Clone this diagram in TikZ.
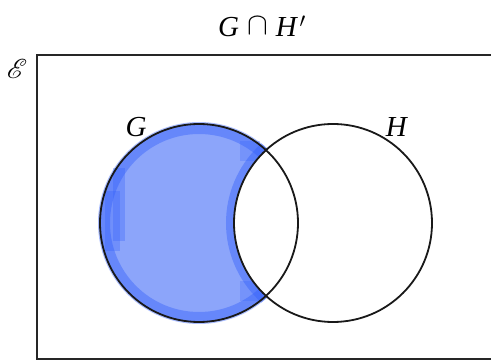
\documentclass[tikz,border=0pt]{standalone}
\usepackage{mathrsfs}
\usepackage{graphicx}
\usepackage{fontspec}
\setmainfont{Liberation Serif}
\usetikzlibrary{calc}
\definecolor{blueL}{RGB}{140,165,250}
\definecolor{blueD}{RGB}{50,95,250}
\tikzset{
  lbl/.style={inner sep=0pt, font=\fontsize{29}{34}\selectfont},
  frameline/.style={line width=1.6pt, black!85},
  circ/.style={line width=1.8pt, black!90},
}
\begin{document}
\begin{tikzpicture}[x=1pt,y=1pt]
\useasboundingbox (0,0) rectangle (491,361);
% crescent shading
\begin{scope}[even odd rule]
  \clip (0,0) rectangle (491,361) (333,138) circle (99);
  \fill[blueL] (199,138) circle (99);
  \fill[blueD, opacity=0.3] (113,193) rectangle (125,120);
  \fill[blueD, opacity=0.3] (105,170) rectangle (120,110);
  \fill[blueD, opacity=0.25] (240,220) rectangle (260,200);
  \fill[blueD, opacity=0.25] (240,80) rectangle (262,60);
\end{scope}
\begin{scope}[even odd rule]
  \clip (0,0) rectangle (491,361) (333,138) circle (99);
  \begin{scope}[nonzero rule]
  \clip (199,138) circle (101);
  \draw[blueD, opacity=0.42, line width=20pt] (199,138) circle (99);
  \draw[blueD, opacity=0.42, line width=16pt] (333,138) circle (99);
  \end{scope}
\end{scope}
% frame
\draw[frameline] (491,306) -- (37,306) -- (37,2) -- (491,2);
% circles
\draw[circ] (199,138) circle (99);
\draw[circ] (333,138) circle (99);
% labels
\node[lbl] (title) at (262,335) {\textit{G}\;\raisebox{0.05em}{\scalebox{1.25}{$\cap$}}\;\textit{H}\kern0.05em$'$};
\node[lbl, scale=1.1] (univ) at (17,292) {$\mathscr{E}$};
\node[lbl] (g) at (136,234) {\textit{G}};
\node[lbl] (h) at (397,234) {\textit{H}};
\end{tikzpicture}
\end{document}
